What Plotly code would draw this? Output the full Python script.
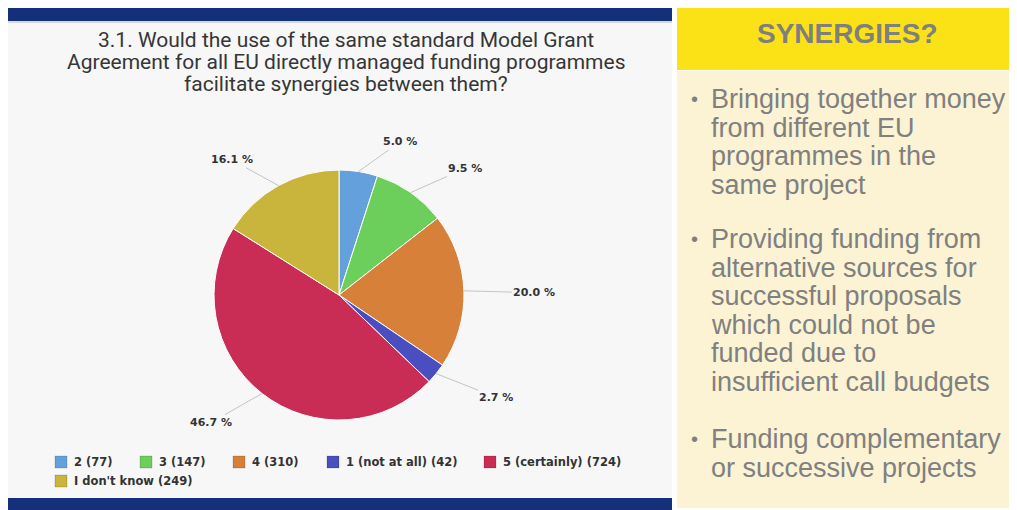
import math
import plotly.graph_objects as go

# ---------------- data ----------------
categories = ["2 (77)", "3 (147)", "4 (310)", "1 (not at all) (42)",
              "5 (certainly) (724)", "I don't know (249)"]
counts = [77, 147, 310, 42, 724, 249]
slice_colors = ["#64a0dc", "#6ccf5c", "#d7803a", "#4a4fbf", "#c92d55", "#c9b43c"]

title_lines = [
    "3.1. Would the use of the same standard Model Grant",
    "Agreement for all EU directly managed funding programmes",
    "facilitate synergies between them?",
]
panel_header = "SYNERGIES?"
bullets = [
    ["Bringing together money", "from different EU", "programmes in the", "same project"],
    ["Providing funding from", "alternative sources for", "successful proposals",
     "which could not be", "funded due to", "insufficient call budgets"],
    ["Funding complementary", "or successive projects"],
]

# ---------------- layout helpers ----------------
W, H = 1017, 510
OFF = 8  # page body margin of the browser


def X(px):
    return (px - OFF) / W


def Y(py):
    return 1 - (py - OFF) / H


CX, CY, R = 339, 295, 125
NAVY = "#15307a"

fig = go.Figure(go.Pie(
    labels=categories, values=counts, sort=False, direction="clockwise",
    rotation=0, textinfo="none", hoverinfo="label+value+percent",
    showlegend=False,
    marker=dict(colors=slice_colors, line=dict(color="white", width=1)),
    domain=dict(x=[X(CX - R), X(CX + R)], y=[Y(CY + R), Y(CY - R)]),
))

annotations = []
shapes = [
    dict(type="rect", xref="paper", yref="paper", x0=X(7), x1=X(672),
         y0=Y(510), y1=Y(5), fillcolor="#f7f7f7", line=dict(width=0), layer="below"),
    dict(type="rect", xref="paper", yref="paper", x0=X(7), x1=X(672),
         y0=Y(23), y1=Y(21), fillcolor="#d8d8d8", line=dict(width=0), layer="below"),
    dict(type="rect", xref="paper", yref="paper", x0=X(7), x1=X(672),
         y0=Y(21), y1=Y(5), fillcolor=NAVY, line=dict(width=0), layer="below"),
    dict(type="rect", xref="paper", yref="paper", x0=X(7), x1=X(672),
         y0=Y(510), y1=Y(498), fillcolor=NAVY, line=dict(width=0), layer="below"),
    dict(type="rect", xref="paper", yref="paper", x0=X(677), x1=X(1017),
         y0=Y(70), y1=Y(4), fillcolor="#fbe216", line=dict(width=0), layer="below"),
    dict(type="rect", xref="paper", yref="paper", x0=X(677), x1=X(1017),
         y0=Y(508), y1=Y(71), fillcolor="#fbf3d3", line=dict(width=0), layer="below"),
]

# percent labels with connectors (derived from the data)
total = sum(counts)
cum = 0.0
for v in counts:
    frac = v / total
    mid = (cum + frac / 2) * 2 * math.pi
    cum += frac
    s, c = math.sin(mid), math.cos(mid)
    ex, ey = CX + R * s, CY - R * c
    lx, ly = CX + (R + 30) * s, CY - (R + 30) * c + 3 - 3 * c
    txt = f"{100 * frac:.1f} %"
    w = 7 * len(txt) - 1
    side = 1 if s >= 0 else -1
    tx = lx + side * (w / 2 + (20 if side > 0 else 12))
    annotations.append(dict(
        x=X(ex), y=Y(ey), xref="paper", yref="paper",
        ax=tx - ex, ay=ly - ey, text=txt, showarrow=True,
        arrowhead=0, arrowwidth=1, arrowcolor="#c4c4c4", standoff=0,
        font=dict(family="DejaVu Sans", size=11, color="#333333", weight="bold"),
    ))

# legend (built from the categories / colours)
legend_sym_x = [55, 140, 233, 327, 484, 55]
legend_row = [0, 0, 0, 0, 0, 1]
for name, col, sx, row in zip(categories, slice_colors, legend_sym_x, legend_row):
    yc = 462 + 19 * row
    shapes.append(dict(type="rect", xref="paper", yref="paper",
                       x0=X(sx), x1=X(sx + 12), y0=Y(yc + 6), y1=Y(yc - 6),
                       fillcolor=col, line=dict(color="rgba(0,0,0,0.15)", width=1)))
    annotations.append(dict(
        x=X(sx + 17), y=Y(yc), xref="paper", yref="paper", text=name,
        showarrow=False, xanchor="left", yanchor="middle",
        font=dict(family="DejaVu Sans", size=11.5, color="#333333", weight="bold"),
    ))

# title
for i, line in enumerate(title_lines):
    annotations.append(dict(
        x=X(346), y=Y(40 + i * 22), xref="paper", yref="paper",
        text=line, showarrow=False, xanchor="center", yanchor="middle",
        font=dict(family="Roboto, Liberation Sans", size=21, color="#363636"),
    ))

# right panel header
annotations.append(dict(
    x=X(847), y=Y(33), xref="paper", yref="paper", text=panel_header,
    showarrow=False, xanchor="center", yanchor="middle",
    font=dict(family="Liberation Sans, Arial", size=28, color="#7f7f7f",
              weight="bold"),
))

# bullets
starts = [108, 248, 448]
LS = 28.6
FS = 27
for b, lines in enumerate(bullets):
    for j, line in enumerate(lines):
        base = starts[b] + j * LS
        annotations.append(dict(
            x=X(709), y=Y(base - 0.33 * FS), xref="paper", yref="paper",
            text=line, showarrow=False, xanchor="left", yanchor="middle",
            font=dict(family="Liberation Sans, Arial", size=FS, color="#808080"),
        ))
    annotations.append(dict(
        x=X(689), y=Y(starts[b] - 0.33 * FS), xref="paper", yref="paper",
        text="•", showarrow=False, xanchor="left", yanchor="middle",
        font=dict(family="Liberation Sans, Arial", size=20, color="#808080"),
    ))

fig.update_layout(
    width=W, height=H,
    margin=dict(l=0, r=0, t=0, b=0, pad=0),
    paper_bgcolor="white", plot_bgcolor="white",
    showlegend=False,
    annotations=annotations,
    shapes=shapes,
)

fig.write_html("out.html")
